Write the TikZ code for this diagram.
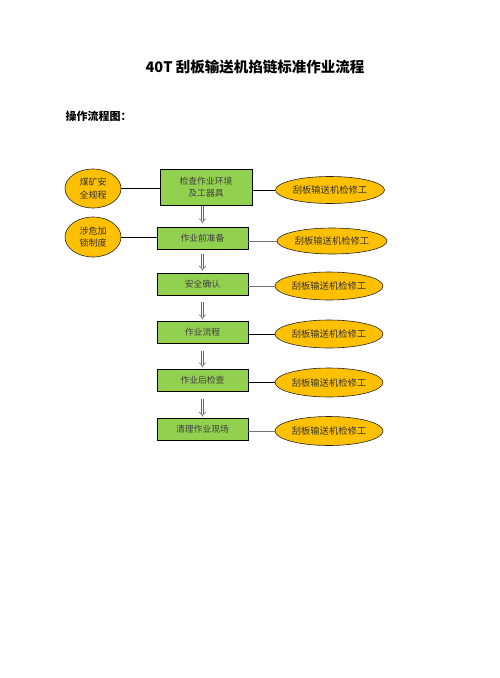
\documentclass[tikz,border=0pt]{standalone}
\usepackage{fontspec}
\setmainfont{Noto Sans CJK SC}
\usetikzlibrary{arrows.meta,shapes.geometric}
\definecolor{boxgreen}{HTML}{92D050}
\definecolor{ellorange}{HTML}{FFC000}
\begin{document}
\begin{tikzpicture}[x=1pt,y=-1pt,
  stepbox/.style={draw=black, line width=0.9pt, fill=boxgreen, minimum width=91pt, minimum height=21.5pt, inner sep=0pt, font=\fontsize{8.8}{12}\selectfont, text=black!75, align=center},
  worker/.style={ellipse, draw=black!85, line width=0.6pt, fill=ellorange, minimum width=108pt, minimum height=28pt, inner sep=0pt, font=\fontsize{9.3}{11}\selectfont, text=black!80},
  rulebox/.style={ellipse, draw=black!85, line width=0.6pt, fill=ellorange, minimum width=56pt, minimum height=39pt, inner sep=0pt, align=center, font=\fontsize{9}{12.5}\selectfont, text=black!80},
  link/.style={line width=0.8pt, draw=black},
  glink/.style={line width=0.8pt, draw=black!55},
  flow/.style={draw=black!60, double=white, double distance=1.8pt, line width=0.6pt, -{Implies}, shorten >=2pt}]
\useasboundingbox (0,0) rectangle (500,678);

\node[font=\fontsize{14.5}{17}\selectfont\bfseries] (title) at (255,67) {40T 刮板输送机掐链标准作业流程};
\node[anchor=west, font=\fontsize{11}{12}\selectfont\bfseries] (sub) at (62,116) {操作流程图：};

\node[stepbox, minimum width=92pt, minimum height=36pt] (b1) at (206,187) {检查作业环境\\及工器具};
\node[stepbox] (b2) at (202.5,238.5) {作业前准备};
\node[stepbox, minimum height=22pt] (b3) at (202.5,284) {安全确认};
\node[stepbox] (b4) at (202.5,332.5) {作业流程};
\node[stepbox] (b5) at (202.5,380.5) {作业后检查};
\node[stepbox, minimum height=22pt] (b6) at (202.5,429) {清理作业现场};

\node[worker, minimum width=109pt, minimum height=27pt] (e1) at (330,190) {刮板输送机检修工};
\node[worker, minimum width=110pt, minimum height=26pt] (e2) at (332,241) {刮板输送机检修工};
\node[worker] (e3) at (329,286) {刮板输送机检修工};
\node[worker] (e4) at (329,334) {刮板输送机检修工};
\node[worker, minimum height=29pt] (e5) at (329,382.5) {刮板输送机检修工};
\node[worker, minimum height=29pt] (e6) at (329,431) {刮板输送机检修工};

\node[rulebox] (l1) at (93,188.5) {煤矿安\\全规程};
\node[rulebox, minimum height=40pt] (l2) at (93,237) {涉危加\\锁制度};

\draw[link] (l1.east) -- (l1.east -| b1.west);
\draw[link] (l2.east) -- (l2.east -| b2.west);

\draw[link] (b1.east |- e1.west) -- (e1.west);
\draw[glink] (b2.east |- e2.west) -- (e2.west);
\draw[glink] (b3.east |- e3.west) -- (e3.west);
\draw[link] (b4.east |- e4.west) -- (e4.west);
\draw[link] (b5.east |- e5.west) -- (e5.west);
\draw[glink] (b6.east |- e6.west) -- (e6.west);

\draw[flow, shorten <=0.5pt, shorten >=4pt] (b2.north |- b1.south) -- (b2.north);
\draw[flow, shorten <=4pt] (b2.south) -- (b3.north);
\draw[flow, shorten <=7pt] (b3.south) -- (b4.north);
\draw[flow, shorten <=7pt] (b4.south) -- (b5.north);
\draw[flow, shorten <=7pt, shorten >=1pt] (b5.south) -- (b6.north);
\end{tikzpicture}
\end{document}
